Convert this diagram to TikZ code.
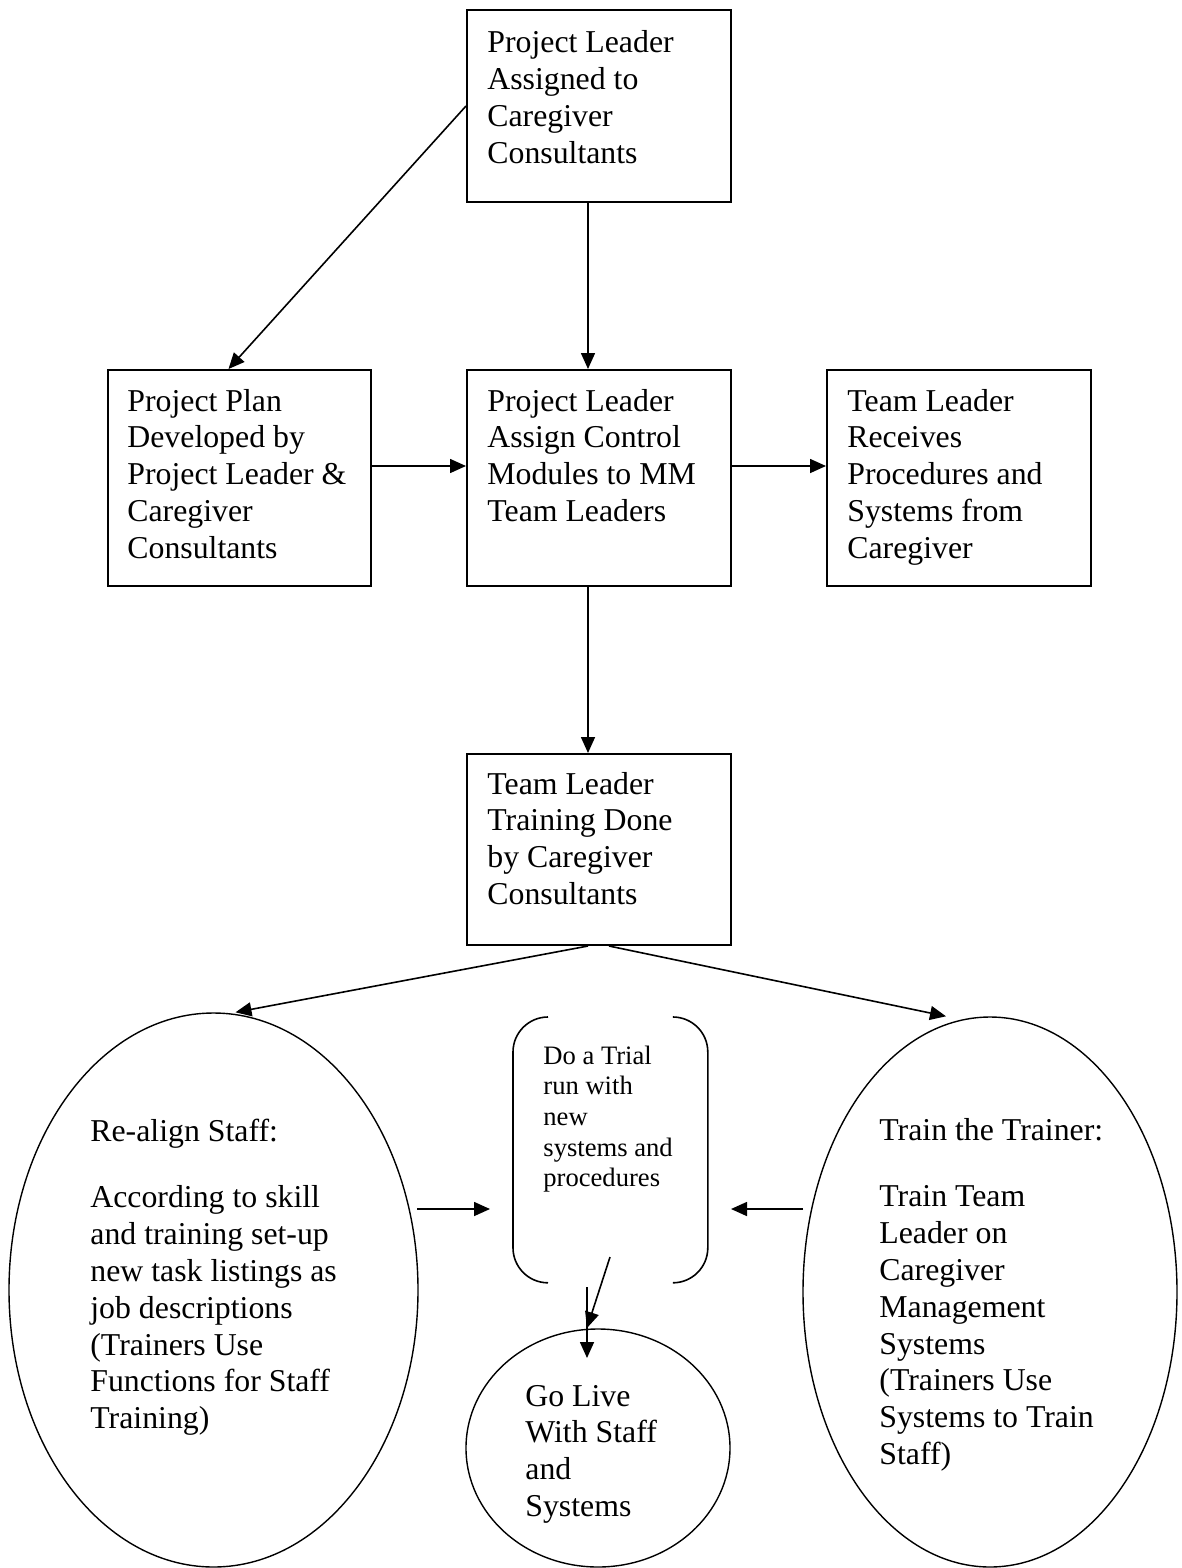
\documentclass[tikz,border=0pt]{standalone}
\usepackage{fontspec}
\setmainfont{Liberation Serif}
\usetikzlibrary{arrows.meta,shapes.geometric,calc}

\newcommand\mainsize{\fontsize{15.9pt}{18.4pt}\selectfont}
\newcommand\smallsize{\fontsize{13.3pt}{15.35pt}\selectfont}
\newcommand\lines[1]{\parbox[t]{220pt}{\mainsize #1}}
\newcommand\smalllines[1]{\parbox[t]{200pt}{\smallsize #1}}

\begin{document}
\begin{tikzpicture}[
  x=0.5pt, y=-0.5pt,
  stepbox/.style={draw, line width=1pt, rectangle, inner sep=0pt, anchor=north west},
  oval/.style={draw, line width=0.7pt, ellipse, inner sep=0pt},
  txt/.style={inner sep=0pt, anchor=base west},
  arr/.style={line width=0.8pt, -{Triangle[length=8pt,width=7pt]}},
  bracket/.style={line width=0.8pt, rounded corners=17.5pt},
]
\useasboundingbox (0,0) rectangle (1182,1568);
\fill[white] (0,0) rectangle (1182,1568);

% process boxes
\node[stepbox, minimum width=132pt, minimum height=96pt]   (b1) at (466,9) {};
\node[stepbox, minimum width=131.5pt, minimum height=108pt] (b2) at (107,369) {};
\node[stepbox, minimum width=132pt, minimum height=108pt]  (b3) at (466,369) {};
\node[stepbox, minimum width=132pt, minimum height=108pt]  (b4) at (826,369) {};
\node[stepbox, minimum width=132pt, minimum height=95.5pt] (b5) at (466,753) {};

\node[txt] (b1t) at (487,53)  {\lines{Project Leader\\Assigned to\\Caregiver\\Consultants}};
\node[txt] (b2t) at (127,411) {\lines{Project Plan\\Developed by\\Project Leader \&\\Caregiver\\Consultants}};
\node[txt] (b3t) at (487,411) {\lines{Project Leader\\Assign Control\\Modules to MM\\Team Leaders}};
\node[txt] (b4t) at (847,411) {\lines{Team Leader\\Receives\\Procedures and\\Systems from\\Caregiver}};
\node[txt] (b5t) at (487,794) {\lines{Team Leader\\Training Done\\by Caregiver\\Consultants}};

% ovals
\node[oval, minimum width=204.5pt, minimum height=277pt] (le) at (213.5,1290) {};
\node[oval, minimum width=187pt, minimum height=275pt]   (re) at (990,1292) {};
\node[oval, minimum width=132pt, minimum height=119pt]   (gl) at (598,1448) {};

\node[txt] (let) at (90,1141) {\lines{Re-align Staff:\\[15pt]According to skill\\and training set-up\\new task listings as\\job descriptions\\(Trainers Use\\Functions for Staff\\Training)}};
\node[txt] (ret) at (879,1140) {\lines{Train the Trainer:\\[15pt]Train Team\\Leader on\\Caregiver\\Management\\Systems\\(Trainers Use\\Systems to Train\\Staff)}};
\node[txt] (glt) at (525,1406) {\lines{Go Live\\With Staff\\and\\Systems}};

% trial run, framed by two brackets
\node[inner sep=0pt, anchor=north west, minimum width=97pt, minimum height=132.5pt] (trial) at (513,1017) {};
\draw[bracket] ([xshift=17.5pt]trial.north west) -- (trial.north west) -- (trial.south west) -- ([xshift=17.5pt]trial.south west);
\draw[bracket] ([xshift=-17pt]trial.north east) -- (trial.north east) -- (trial.south east) -- ([xshift=-17pt]trial.south east);
\node[txt] (trt) at (543,1064) {\smalllines{Do a Trial\\run with\\new\\systems and\\procedures}};

% connectors between boxes
\draw[arr] (b1.west) -- ([xshift=-5.5pt]b2.north);
\draw[arr] ([xshift=-5.5pt]b1.south) -- ([xshift=-5.5pt]b3.north);
\draw[arr] ([yshift=6pt]b2.east) -- ([yshift=6pt]b3.west);
\draw[arr] ([yshift=6pt]b3.east) -- ([yshift=6pt]b4.west);
\draw[arr] ([xshift=-5.5pt]b3.south) -- ([xshift=-5.5pt]b5.north);
\draw[arr] ([xshift=-5.5pt]b5.south) -- ([xshift=11pt]le.north);
\draw[arr] ([xshift=5pt]b5.south) -- ([xshift=-22pt]re.north);

% connectors around the trial run
\coordinate (lfrom) at (417,1209);
\coordinate (lto)   at (490,1209);
\coordinate (rfrom) at (803,1209);
\coordinate (rto)   at (731,1209);
\coordinate (sfrom) at (610,1257);
\coordinate (sto)   at (587,1328);
\coordinate (vfrom) at (587,1287);
\coordinate (vto)   at (587,1358);
\draw[arr] (lfrom) -- (lto);
\draw[arr] (rfrom) -- (rto);
\draw[arr] (sfrom) -- (sto);
\draw[arr] (vfrom) -- (vto);
\end{tikzpicture}
\end{document}
